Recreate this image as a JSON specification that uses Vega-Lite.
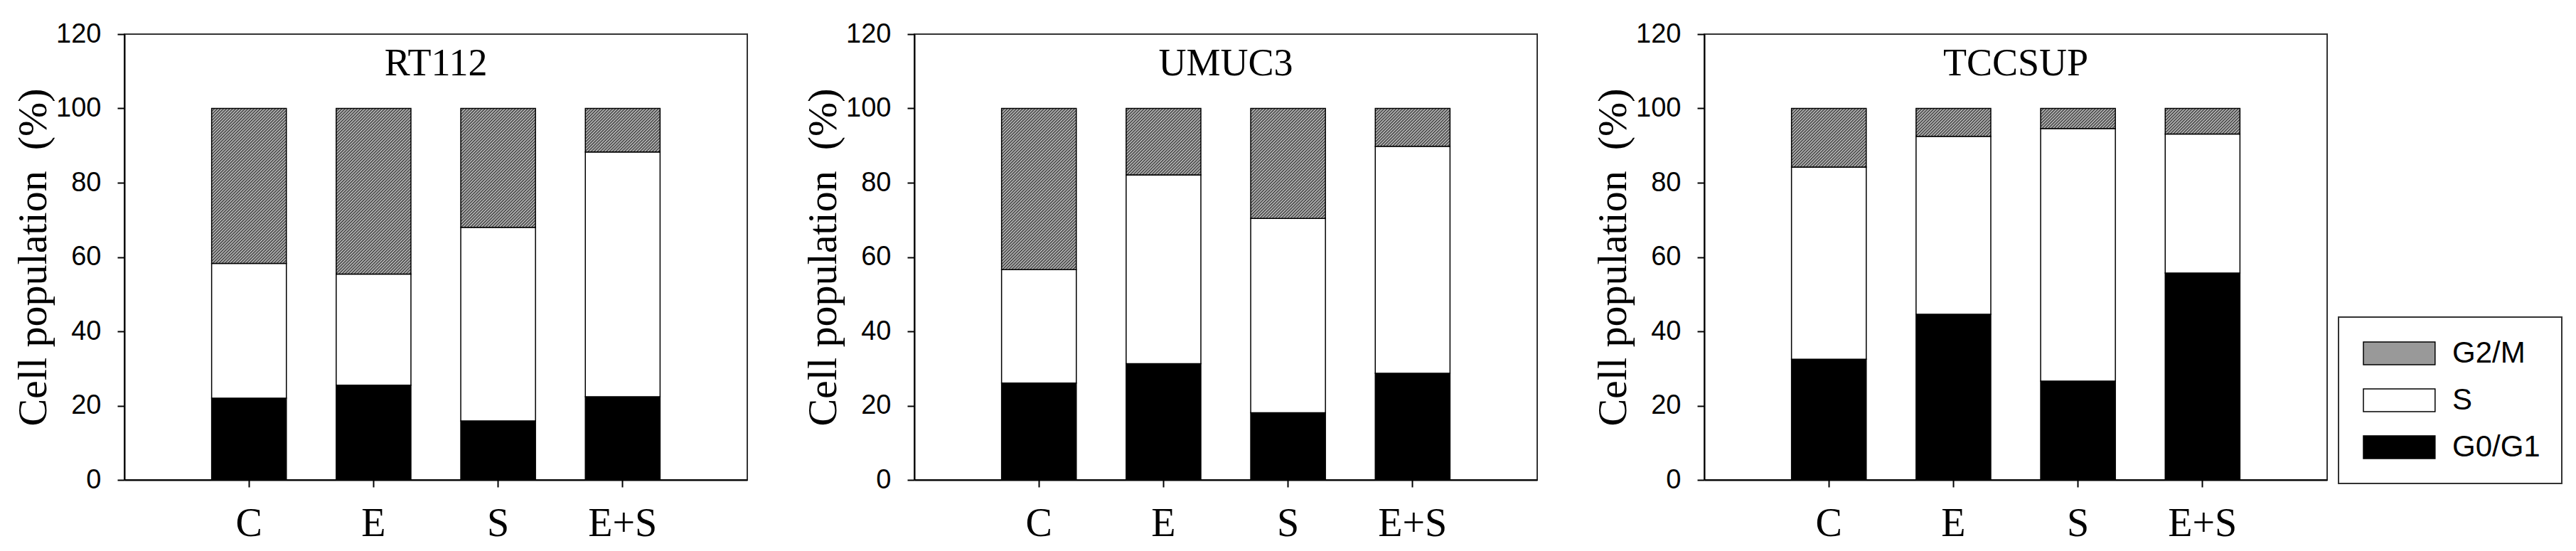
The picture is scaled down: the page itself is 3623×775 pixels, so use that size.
{
  "$schema": "https://vega.github.io/schema/vega-lite/v6.json",
  "background": "white",
  "padding": {"left": 17, "top": 28, "right": 0, "bottom": 0},
  "params": [
    {"name": "hatch", "value": [
      {"offset":0,"color":"#333"},{"offset":0.00625,"color":"#ccc"},{"offset":0.0125,"color":"#333"},{"offset":0.01875,"color":"#ccc"},{"offset":0.025,"color":"#333"},{"offset":0.03125,"color":"#ccc"},{"offset":0.0375,"color":"#333"},{"offset":0.04375,"color":"#ccc"},
      {"offset":0.05,"color":"#333"},{"offset":0.05625,"color":"#ccc"},{"offset":0.0625,"color":"#333"},{"offset":0.06875,"color":"#ccc"},{"offset":0.075,"color":"#333"},{"offset":0.08125,"color":"#ccc"},{"offset":0.0875,"color":"#333"},{"offset":0.09375,"color":"#ccc"},
      {"offset":0.1,"color":"#333"},{"offset":0.10625,"color":"#ccc"},{"offset":0.1125,"color":"#333"},{"offset":0.11875,"color":"#ccc"},{"offset":0.125,"color":"#333"},{"offset":0.13125,"color":"#ccc"},{"offset":0.1375,"color":"#333"},{"offset":0.14375,"color":"#ccc"},
      {"offset":0.15,"color":"#333"},{"offset":0.15625,"color":"#ccc"},{"offset":0.1625,"color":"#333"},{"offset":0.16875,"color":"#ccc"},{"offset":0.175,"color":"#333"},{"offset":0.18125,"color":"#ccc"},{"offset":0.1875,"color":"#333"},{"offset":0.19375,"color":"#ccc"},
      {"offset":0.2,"color":"#333"},{"offset":0.20625,"color":"#ccc"},{"offset":0.2125,"color":"#333"},{"offset":0.21875,"color":"#ccc"},{"offset":0.225,"color":"#333"},{"offset":0.23125,"color":"#ccc"},{"offset":0.2375,"color":"#333"},{"offset":0.24375,"color":"#ccc"},
      {"offset":0.25,"color":"#333"},{"offset":0.25625,"color":"#ccc"},{"offset":0.2625,"color":"#333"},{"offset":0.26875,"color":"#ccc"},{"offset":0.275,"color":"#333"},{"offset":0.28125,"color":"#ccc"},{"offset":0.2875,"color":"#333"},{"offset":0.29375,"color":"#ccc"},
      {"offset":0.3,"color":"#333"},{"offset":0.30625,"color":"#ccc"},{"offset":0.3125,"color":"#333"},{"offset":0.31875,"color":"#ccc"},{"offset":0.325,"color":"#333"},{"offset":0.33125,"color":"#ccc"},{"offset":0.3375,"color":"#333"},{"offset":0.34375,"color":"#ccc"},
      {"offset":0.35,"color":"#333"},{"offset":0.35625,"color":"#ccc"},{"offset":0.3625,"color":"#333"},{"offset":0.36875,"color":"#ccc"},{"offset":0.375,"color":"#333"},{"offset":0.38125,"color":"#ccc"},{"offset":0.3875,"color":"#333"},{"offset":0.39375,"color":"#ccc"},
      {"offset":0.4,"color":"#333"},{"offset":0.40625,"color":"#ccc"},{"offset":0.4125,"color":"#333"},{"offset":0.41875,"color":"#ccc"},{"offset":0.425,"color":"#333"},{"offset":0.43125,"color":"#ccc"},{"offset":0.4375,"color":"#333"},{"offset":0.44375,"color":"#ccc"},
      {"offset":0.45,"color":"#333"},{"offset":0.45625,"color":"#ccc"},{"offset":0.4625,"color":"#333"},{"offset":0.46875,"color":"#ccc"},{"offset":0.475,"color":"#333"},{"offset":0.48125,"color":"#ccc"},{"offset":0.4875,"color":"#333"},{"offset":0.49375,"color":"#ccc"},
      {"offset":0.5,"color":"#333"},{"offset":0.50625,"color":"#ccc"},{"offset":0.5125,"color":"#333"},{"offset":0.51875,"color":"#ccc"},{"offset":0.525,"color":"#333"},{"offset":0.53125,"color":"#ccc"},{"offset":0.5375,"color":"#333"},{"offset":0.54375,"color":"#ccc"},
      {"offset":0.55,"color":"#333"},{"offset":0.55625,"color":"#ccc"},{"offset":0.5625,"color":"#333"},{"offset":0.56875,"color":"#ccc"},{"offset":0.575,"color":"#333"},{"offset":0.58125,"color":"#ccc"},{"offset":0.5875,"color":"#333"},{"offset":0.59375,"color":"#ccc"},
      {"offset":0.6,"color":"#333"},{"offset":0.60625,"color":"#ccc"},{"offset":0.6125,"color":"#333"},{"offset":0.61875,"color":"#ccc"},{"offset":0.625,"color":"#333"},{"offset":0.63125,"color":"#ccc"},{"offset":0.6375,"color":"#333"},{"offset":0.64375,"color":"#ccc"},
      {"offset":0.65,"color":"#333"},{"offset":0.65625,"color":"#ccc"},{"offset":0.6625,"color":"#333"},{"offset":0.66875,"color":"#ccc"},{"offset":0.675,"color":"#333"},{"offset":0.68125,"color":"#ccc"},{"offset":0.6875,"color":"#333"},{"offset":0.69375,"color":"#ccc"},
      {"offset":0.7,"color":"#333"},{"offset":0.70625,"color":"#ccc"},{"offset":0.7125,"color":"#333"},{"offset":0.71875,"color":"#ccc"},{"offset":0.725,"color":"#333"},{"offset":0.73125,"color":"#ccc"},{"offset":0.7375,"color":"#333"},{"offset":0.74375,"color":"#ccc"},
      {"offset":0.75,"color":"#333"},{"offset":0.75625,"color":"#ccc"},{"offset":0.7625,"color":"#333"},{"offset":0.76875,"color":"#ccc"},{"offset":0.775,"color":"#333"},{"offset":0.78125,"color":"#ccc"},{"offset":0.7875,"color":"#333"},{"offset":0.79375,"color":"#ccc"},
      {"offset":0.8,"color":"#333"},{"offset":0.80625,"color":"#ccc"},{"offset":0.8125,"color":"#333"},{"offset":0.81875,"color":"#ccc"},{"offset":0.825,"color":"#333"},{"offset":0.83125,"color":"#ccc"},{"offset":0.8375,"color":"#333"},{"offset":0.84375,"color":"#ccc"},
      {"offset":0.85,"color":"#333"},{"offset":0.85625,"color":"#ccc"},{"offset":0.8625,"color":"#333"},{"offset":0.86875,"color":"#ccc"},{"offset":0.875,"color":"#333"},{"offset":0.88125,"color":"#ccc"},{"offset":0.8875,"color":"#333"},{"offset":0.89375,"color":"#ccc"},
      {"offset":0.9,"color":"#333"},{"offset":0.90625,"color":"#ccc"},{"offset":0.9125,"color":"#333"},{"offset":0.91875,"color":"#ccc"},{"offset":0.925,"color":"#333"},{"offset":0.93125,"color":"#ccc"},{"offset":0.9375,"color":"#333"},{"offset":0.94375,"color":"#ccc"},
      {"offset":0.95,"color":"#333"},{"offset":0.95625,"color":"#ccc"},{"offset":0.9625,"color":"#333"},{"offset":0.96875,"color":"#ccc"},{"offset":0.975,"color":"#333"},{"offset":0.98125,"color":"#ccc"},{"offset":0.9875,"color":"#333"},{"offset":0.99375,"color":"#ccc"},
      {"offset":1,"color":"#333"}
    ]},
    {"name": "lhatch", "value": [
      {"offset":0,"color":"#ccc"},{"offset":0.08,"color":"#ccc"},{"offset":0.08,"color":"#111"},{"offset":0.1,"color":"#111"},
      {"offset":0.1,"color":"#ccc"},{"offset":0.18,"color":"#ccc"},{"offset":0.18,"color":"#111"},{"offset":0.2,"color":"#111"},
      {"offset":0.2,"color":"#ccc"},{"offset":0.28,"color":"#ccc"},{"offset":0.28,"color":"#111"},{"offset":0.3,"color":"#111"},
      {"offset":0.3,"color":"#ccc"},{"offset":0.38,"color":"#ccc"},{"offset":0.38,"color":"#111"},{"offset":0.4,"color":"#111"},
      {"offset":0.4,"color":"#ccc"},{"offset":0.48,"color":"#ccc"},{"offset":0.48,"color":"#111"},{"offset":0.5,"color":"#111"},
      {"offset":0.5,"color":"#ccc"},{"offset":0.58,"color":"#ccc"},{"offset":0.58,"color":"#111"},{"offset":0.6,"color":"#111"},
      {"offset":0.6,"color":"#ccc"},{"offset":0.68,"color":"#ccc"},{"offset":0.68,"color":"#111"},{"offset":0.7,"color":"#111"},
      {"offset":0.7,"color":"#ccc"},{"offset":0.78,"color":"#ccc"},{"offset":0.78,"color":"#111"},{"offset":0.8,"color":"#111"},
      {"offset":0.8,"color":"#ccc"},{"offset":0.88,"color":"#ccc"},{"offset":0.88,"color":"#111"},{"offset":0.9,"color":"#111"},
      {"offset":0.9,"color":"#ccc"},{"offset":0.98,"color":"#ccc"},{"offset":0.98,"color":"#111"},{"offset":1,"color":"#111"}
    ]}
  ],
  "data": {"values": [
    {"cell": "RT112", "treat": "C", "phase": "G0/G1", "value": 22.0},
    {"cell": "RT112", "treat": "C", "phase": "S", "value": 36.3},
    {"cell": "RT112", "treat": "C", "phase": "G2/M", "value": 41.7},
    {"cell": "RT112", "treat": "E", "phase": "G0/G1", "value": 25.5},
    {"cell": "RT112", "treat": "E", "phase": "S", "value": 29.9},
    {"cell": "RT112", "treat": "E", "phase": "G2/M", "value": 44.6},
    {"cell": "RT112", "treat": "S", "phase": "G0/G1", "value": 15.9},
    {"cell": "RT112", "treat": "S", "phase": "S", "value": 52.1},
    {"cell": "RT112", "treat": "S", "phase": "G2/M", "value": 32.0},
    {"cell": "RT112", "treat": "E+S", "phase": "G0/G1", "value": 22.4},
    {"cell": "RT112", "treat": "E+S", "phase": "S", "value": 65.9},
    {"cell": "RT112", "treat": "E+S", "phase": "G2/M", "value": 11.7},
    {"cell": "UMUC3", "treat": "C", "phase": "G0/G1", "value": 26.1},
    {"cell": "UMUC3", "treat": "C", "phase": "S", "value": 30.5},
    {"cell": "UMUC3", "treat": "C", "phase": "G2/M", "value": 43.4},
    {"cell": "UMUC3", "treat": "E", "phase": "G0/G1", "value": 31.3},
    {"cell": "UMUC3", "treat": "E", "phase": "S", "value": 50.8},
    {"cell": "UMUC3", "treat": "E", "phase": "G2/M", "value": 17.9},
    {"cell": "UMUC3", "treat": "S", "phase": "G0/G1", "value": 18.1},
    {"cell": "UMUC3", "treat": "S", "phase": "S", "value": 52.3},
    {"cell": "UMUC3", "treat": "S", "phase": "G2/M", "value": 29.6},
    {"cell": "UMUC3", "treat": "E+S", "phase": "G0/G1", "value": 28.7},
    {"cell": "UMUC3", "treat": "E+S", "phase": "S", "value": 61.1},
    {"cell": "UMUC3", "treat": "E+S", "phase": "G2/M", "value": 10.2},
    {"cell": "TCCSUP", "treat": "C", "phase": "G0/G1", "value": 32.5},
    {"cell": "TCCSUP", "treat": "C", "phase": "S", "value": 51.7},
    {"cell": "TCCSUP", "treat": "C", "phase": "G2/M", "value": 15.8},
    {"cell": "TCCSUP", "treat": "E", "phase": "G0/G1", "value": 44.6},
    {"cell": "TCCSUP", "treat": "E", "phase": "S", "value": 47.9},
    {"cell": "TCCSUP", "treat": "E", "phase": "G2/M", "value": 7.5},
    {"cell": "TCCSUP", "treat": "S", "phase": "G0/G1", "value": 26.6},
    {"cell": "TCCSUP", "treat": "S", "phase": "S", "value": 68.0},
    {"cell": "TCCSUP", "treat": "S", "phase": "G2/M", "value": 5.4},
    {"cell": "TCCSUP", "treat": "E+S", "phase": "G0/G1", "value": 55.7},
    {"cell": "TCCSUP", "treat": "E+S", "phase": "S", "value": 37.4},
    {"cell": "TCCSUP", "treat": "E+S", "phase": "G2/M", "value": 6.9}
  ]},
  "spacing": 76,
  "config": {
    "view": {"stroke": "#333", "strokeWidth": 2},
    "font": "Liberation Sans",
    "axis": {"domainColor": "black", "domainWidth": 2, "tickColor": "black", "tickWidth": 2, "tickSize": 10, "grid": false, "labelColor": "black", "titleColor": "black"},
    "axisY": {"labelFont": "Liberation Sans", "labelFontSize": 38, "labelPadding": 23, "titleFont": "Liberation Serif", "titleFontSize": 58, "titleFontWeight": "normal", "titlePadding": 2},
    "axisX": {"labelFont": "Liberation Serif", "labelFontSize": 56, "labelPadding": 24, "labelAngle": 0},
    "title": {"font": "Liberation Serif", "fontSize": 54, "fontWeight": "normal", "color": "black", "frame": "group", "anchor": "middle", "offset": -88, "baseline": "alphabetic"},
    "legend": {"labelFont": "Liberation Sans", "labelFontSize": 42, "labelColor": "black", "labelOffset": 88, "symbolStrokeColor": "black", "symbolStrokeWidth": 1.5, "strokeColor": "#333", "strokeWidth": 2, "padding": 30, "rowPadding": 24, "fillColor": "white"}
  },
  "hconcat": [
    {
      "width": 876, "height": 627,
      "title": {"text": "RT112"},
      "transform": [{"filter": "datum.cell === 'RT112'"}, {"calculate": "indexof(['G0/G1','S','G2/M'], datum.phase)", "as": "ord"}],
      "mark": {"type": "bar", "stroke": "black", "strokeWidth": 1.5},
      "encoding": {
        "x": {"field": "treat", "type": "nominal", "sort": ["C", "E", "S", "E+S"], "scale": {"paddingInner": 0.4, "paddingOuter": 0.7}, "axis": {"title": null, "labelAngle": 0}},
        "y": {"field": "value", "type": "quantitative", "stack": "zero", "scale": {"domain": [0, 120], "nice": false}, "axis": {"title": "Cell population\u00a0 (%)", "values": [0, 20, 40, 60, 80, 100, 120]}},
        "fill": {"field": "phase", "type": "nominal",
          "scale": {"domain": ["G2/M", "S", "G0/G1"], "range": ["#999999", "white", "black"]},
          "legend": {"title": null, "orient": "none", "legendX": 3114, "legendY": 398, "symbolType": "M-1,-1H5.3V1H-1Z", "symbolSize": 1024,
            "encode": {"symbols": {"update": {
              "fill": {"signal": "datum.value === 'G2/M' ? {gradient: 'linear', x1: 0, y1: 0, x2: 1.088, y2: 0.1078, stops: lhatch} : (datum.value === 'S' ? 'white' : 'black')"},
              "stroke": {"value": "black"},
              "strokeWidth": {"value": 1.5}
            }}}},
          "condition": {"test": "datum.phase === 'G2/M'", "value": {"expr": "{gradient: 'linear', x1: 0, y1: 0, x2: 344*105.1/(11046 + pow(datum.value*5.225, 2)), y2: 344*datum.value*5.225/(11046 + pow(datum.value*5.225, 2)), stops: hatch}"}}
        },
        "order": {"field": "ord", "type": "quantitative", "sort": "ascending"}
      }
    },
    {
      "width": 876, "height": 627,
      "title": {"text": "UMUC3"},
      "transform": [{"filter": "datum.cell === 'UMUC3'"}, {"calculate": "indexof(['G0/G1','S','G2/M'], datum.phase)", "as": "ord"}],
      "mark": {"type": "bar", "stroke": "black", "strokeWidth": 1.5},
      "encoding": {
        "x": {"field": "treat", "type": "nominal", "sort": ["C", "E", "S", "E+S"], "scale": {"paddingInner": 0.4, "paddingOuter": 0.7}, "axis": {"title": null, "labelAngle": 0}},
        "y": {"field": "value", "type": "quantitative", "stack": "zero", "scale": {"domain": [0, 120], "nice": false}, "axis": {"title": "Cell population\u00a0 (%)", "values": [0, 20, 40, 60, 80, 100, 120]}},
        "fill": {"field": "phase", "type": "nominal",
          "condition": {"test": "datum.phase === 'G2/M'", "value": {"expr": "{gradient: 'linear', x1: 0, y1: 0, x2: 344*105.1/(11046 + pow(datum.value*5.225, 2)), y2: 344*datum.value*5.225/(11046 + pow(datum.value*5.225, 2)), stops: hatch}"}}
        },
        "order": {"field": "ord", "type": "quantitative", "sort": "ascending"}
      }
    },
    {
      "width": 876, "height": 627,
      "title": {"text": "TCCSUP"},
      "transform": [{"filter": "datum.cell === 'TCCSUP'"}, {"calculate": "indexof(['G0/G1','S','G2/M'], datum.phase)", "as": "ord"}],
      "mark": {"type": "bar", "stroke": "black", "strokeWidth": 1.5},
      "encoding": {
        "x": {"field": "treat", "type": "nominal", "sort": ["C", "E", "S", "E+S"], "scale": {"paddingInner": 0.4, "paddingOuter": 0.7}, "axis": {"title": null, "labelAngle": 0}},
        "y": {"field": "value", "type": "quantitative", "stack": "zero", "scale": {"domain": [0, 120], "nice": false}, "axis": {"title": "Cell population\u00a0 (%)", "values": [0, 20, 40, 60, 80, 100, 120]}},
        "fill": {"field": "phase", "type": "nominal",
          "condition": {"test": "datum.phase === 'G2/M'", "value": {"expr": "{gradient: 'linear', x1: 0, y1: 0, x2: 344*105.1/(11046 + pow(datum.value*5.225, 2)), y2: 344*datum.value*5.225/(11046 + pow(datum.value*5.225, 2)), stops: hatch}"}}
        },
        "order": {"field": "ord", "type": "quantitative", "sort": "ascending"}
      }
    }
  ]
}
